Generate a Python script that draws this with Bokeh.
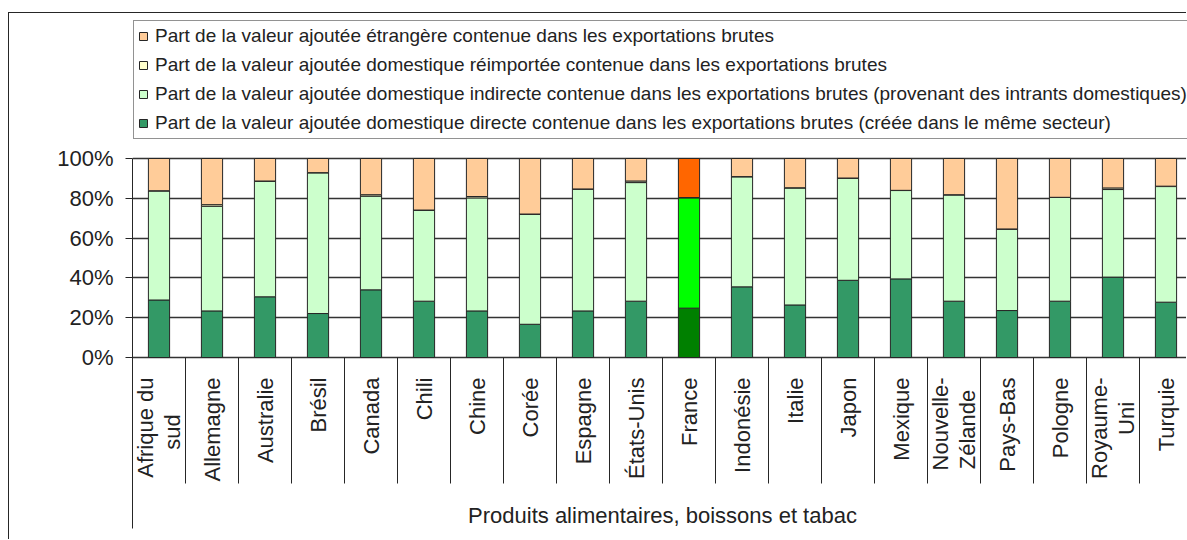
import math
from bokeh.plotting import figure
from bokeh.models import Range1d, FixedTicker, Legend, LegendItem, ColumnDataSource
from bokeh.core.properties import value
from bokeh.embed import file_html
from bokeh.resources import INLINE

countries = ["Afrique du\nsud", "Allemagne", "Australie", "Brésil", "Canada", "Chili",
             "Chine", "Corée", "Espagne", "États-Unis", "France", "Indonésie", "Italie",
             "Japon", "Mexique", "Nouvelle-\nZélande", "Pays-Bas", "Pologne",
             "Royaume-\nUni", "Turquie"]
direct = [28.9, 23.4, 30.5, 22.1, 34.0, 28.3, 23.4, 16.7, 23.4, 28.3,
          24.8, 35.5, 26.4, 38.8, 39.5, 28.3, 23.6, 28.3, 40.4, 27.8]
indirect = [54.8, 52.6, 58.1, 70.7, 47.1, 45.7, 56.8, 55.3, 61.2, 59.6,
            55.4, 55.3, 58.8, 51.3, 44.4, 53.4, 40.9, 52.1, 44.0, 58.1]
reimport = [0.1, 0.8, 0.1, 0.1, 0.7, 0.1, 0.7, 0.1, 0.1, 0.8,
            0.2, 0.1, 0.1, 0.1, 0.1, 0.1, 0.1, 0.1, 0.8, 0.2]
foreign = [16.2, 23.2, 11.3, 7.1, 18.2, 25.9, 19.1, 27.9, 15.3, 11.3,
           19.6, 9.1, 14.7, 9.8, 16.0, 18.2, 35.4, 19.5, 14.8, 13.9]

series_labels = [
    "Part de la valeur ajoutée étrangère contenue dans les exportations brutes",
    "Part de la valeur ajoutée domestique réimportée contenue dans les exportations brutes",
    "Part de la valeur ajoutée domestique indirecte contenue dans les exportations brutes (provenant des intrants domestiques)",
    "Part de la valeur ajoutée domestique directe contenue dans les exportations brutes (créée dans le même secteur)",
]
group_label = "Produits alimentaires, boissons et tabac"
y_ticks = [0, 20, 40, 60, 80, 100]
highlight = "France"

FONT = "Liberation Sans"
LC = "#262626"
TC = "#222222"
PX = 1.99            # pixels per percentage point
n = len(countries)
xs = [i + 0.5 for i in range(n)]
d_top = [d for d in direct]
i_top = [d + i for d, i in zip(direct, indirect)]
r_top = [t + r for t, r in zip(i_top, reimport)]
f_top = [t + f for t, f in zip(r_top, foreign)]
hl = [c == highlight for c in countries]


def centred(label):
    # pad the shorter second line so the two lines look centred
    lines = label.split("\n")
    if len(lines) == 2:
        a, b = lines
        pad = max(0, round((len(a) - len(b)) * 0.8))
        return a + "\n" + b + "\u00a0" * pad
    return label


src = ColumnDataSource(dict(
    x=xs, d_top=d_top, i_top=i_top, r_top=r_top, f_top=f_top,
    c_d=["#008000" if h else "#339966" for h in hl],
    c_i=["#00FF00" if h else "#CCFFCC" for h in hl],
    c_r=["#FFFF00" if h else "#FFFFCC" for h in hl],
    c_f=["#FF6600" if h else "#FFCC99" for h in hl],
    lab=[centred(c) for c in countries],
))

p = figure(width=1178, height=527, output_backend="svg", toolbar_location=None,
           x_range=Range1d(0, 1055 / 53.0),
           y_range=Range1d(-(540 - 357) / PX, 100 + (158 - 13) / PX),
           min_border_left=123, min_border_right=0, min_border_top=0,
           min_border_bottom=0)
p.margin = (12, 0, 0, 8)
p.styles = {"border-left": f"1px solid {LC}", "border-top": f"1px solid {LC}"}
p.outline_line_color = None
p.background_fill_color = "white"
p.border_fill_color = "white"

# stacked bars
r_d = p.vbar(x="x", bottom=0, top="d_top", width=0.4, fill_color="c_d",
             line_color=LC, line_width=1, source=src)
r_i = p.vbar(x="x", bottom="d_top", top="i_top", width=0.4, fill_color="c_i",
             line_color=LC, line_width=1, source=src)
r_r = p.vbar(x="x", bottom="i_top", top="r_top", width=0.4, fill_color="c_r",
             line_color=LC, line_width=1, source=src)
r_f = p.vbar(x="x", bottom="r_top", top="f_top", width=0.4, fill_color="c_f",
             line_color=LC, line_width=1, source=src)

# y axis (line runs down to the bottom of the category block)
p.yaxis.ticker = FixedTicker(ticks=y_ticks)
p.yaxis.bounds = (-(528 - 357) / PX, 100)
p.yaxis.major_label_overrides = {t: f"{t}%" for t in y_ticks}
p.yaxis.major_label_text_font = FONT
p.yaxis.major_label_text_font_size = "22px"
p.yaxis.major_label_text_color = TC
p.yaxis.major_tick_out = 7
p.yaxis.major_tick_in = 0
p.yaxis.minor_tick_line_color = None
p.yaxis.axis_line_color = LC
p.yaxis.major_tick_line_color = LC
p.yaxis.major_label_standoff = 12

p.ygrid.ticker = FixedTicker(ticks=y_ticks)
p.ygrid.grid_line_color = "#333333"
p.ygrid.grid_line_width = 1.3
p.xgrid.visible = False
p.xaxis.visible = False

# category axis drawn in data space below the 0% line
bounds = list(range(n + 1))
p.segment(x0=bounds, y0=[0] * (n + 1), x1=bounds, y1=[-(483 - 357) / PX] * (n + 1),
          line_color=LC, line_width=1)
p.text(x="x", y=-(377 - 357) / PX, text="lab", source=src, angle=math.pi / 2,
       text_align="right", text_baseline="middle", text_font=value(FONT),
       text_font_size="22px", text_color=TC, text_line_height=1.05)
p.text(x=[n / 2], y=[-(515 - 357) / PX], text=[group_label], text_align="center",
       text_baseline="middle", text_font=value(FONT), text_font_size="22px",
       text_color=TC)

legend = Legend(items=[
    LegendItem(label=series_labels[0], renderers=[r_f], index=0),
    LegendItem(label=series_labels[1], renderers=[r_r], index=0),
    LegendItem(label=series_labels[2], renderers=[r_i], index=0),
    LegendItem(label=series_labels[3], renderers=[r_d], index=0),
], location=(1, 540 - 139))
legend.label_text_font = FONT
legend.label_text_font_size = "19px"
legend.label_text_color = TC
legend.glyph_width = 10
legend.glyph_height = 10
legend.label_standoff = 7
legend.label_height = 22
legend.spacing = 7
legend.padding = 4
legend.margin = 0
legend.border_line_color = LC
legend.border_line_width = 1
legend.background_fill_color = "white"
legend.background_fill_alpha = 1
p.add_layout(legend, "center")

open("out.html", "w").write(file_html(p, INLINE))
